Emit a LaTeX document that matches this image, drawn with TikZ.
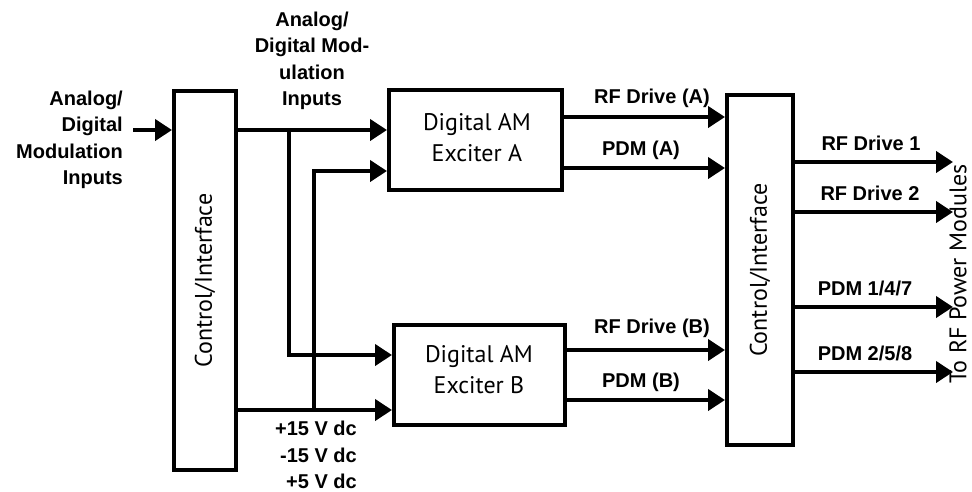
\documentclass[tikz,border=0pt]{standalone}
\usepackage{fontspec}
\setmainfont{Liberation Sans}
\newfontfamily\boxfont{PT Sans}
\usetikzlibrary{arrows.meta}
\begin{document}
\begin{tikzpicture}[x=1pt,y=-1pt,
  blk/.style={draw, line width=4pt, inner sep=0pt},
  boxtext/.style={font=\boxfont\fontsize{24}{31}\selectfont, align=center, inner sep=0pt},
  arr/.style={line width=4pt, -{Triangle[length=17pt,width=21pt]}},
  wire/.style={line width=4pt},
  lbl/.style={font=\bfseries\fontsize{20}{26.5}\selectfont, inner sep=0pt}]
\useasboundingbox (0,0) rectangle (972,491);

% blocks
\node[blk, minimum width=62pt, minimum height=379pt] (L) at (205,280.5) {};
\node[boxtext, rotate=90] (Lt) at (L.center) {Control/Interface};
\node[blk, minimum width=173pt, minimum height=100pt] (A) at (475.5,140) {};
\node[boxtext] (At) at (477,138) {Digital AM\\Exciter A};
\node[blk, minimum width=171pt, minimum height=100pt] (B) at (479.5,375) {};
\node[boxtext] (Bt) at (479,370) {Digital AM\\Exciter B};
\node[blk, minimum width=66pt, minimum height=350pt] (R) at (760,270) {};
\node[boxtext, rotate=90] (Rt) at (R.center) {Control/Interface};

% level coordinates
\coordinate (ya1) at (0,130);
\coordinate (ya2) at (0,171);
\coordinate (yb1) at (0,355);
\coordinate (yb2) at (0,410);
\coordinate (oa1) at (0,117);
\coordinate (oa2) at (0,168);
\coordinate (ob1) at (0,350);
\coordinate (ob2) at (0,400);
\coordinate (inS) at (133,130);
\coordinate (j1) at (289,130);
\coordinate (j2) at (314,410);
\coordinate (o1) at (953,162);
\coordinate (o2) at (953,212);
\coordinate (o3) at (953,307);
\coordinate (o4) at (953,372);

% input
\draw[arr] (inS) -- (L.west |- inS);
% left box to exciters
\draw[arr] (L.east |- ya1) -- (A.west |- ya1);
\draw[arr] (L.east |- yb2) -- (B.west |- yb2);
\draw[arr] (j1) |- (B.west |- yb1);
\draw[arr] (j2) |- (A.west |- ya2);
% exciters to right box
\draw[arr] (A.east |- oa1) -- (R.west |- oa1);
\draw[arr] (A.east |- oa2) -- (R.west |- oa2);
\draw[arr] (B.east |- ob1) -- (R.west |- ob1);
\draw[arr] (B.east |- ob2) -- (R.west |- ob2);
% outputs
\draw[arr] (R.east |- o1) -- (o1);
\draw[arr] (R.east |- o2) -- (o2);
\draw[arr] (R.east |- o3) -- (o3);
\draw[arr] (R.east |- o4) -- (o4);

% labels
\node[lbl, align=right, anchor=east] (lin) at (123,140) {Analog/\\Digital\\Modulation\\Inputs};
\node[lbl, align=center] (top) at (312,61) {Analog/\\Digital Mod-\\ulation\\Inputs};
\node[lbl, align=right, anchor=east] (volt) at (357,455) {+15 V dc\\-15 V dc\\+5 V dc};
\node[lbl] (lra) at (652,98) {RF Drive (A)};
\node[lbl] (lpa) at (641,150) {PDM (A)};
\node[lbl] (lrb) at (652,328) {RF Drive (B)};
\node[lbl] (lpb) at (641,382) {PDM (B)};
\node[lbl] (l1) at (871,143) {RF Drive 1};
\node[lbl] (l2) at (870,193) {RF Drive 2};
\node[lbl] (l3) at (865,288) {PDM 1/4/7};
\node[lbl] (l4) at (865,353) {PDM 2/5/8};
\node[boxtext, rotate=90] (to) at (958,274) {To RF Power Modules};
\end{tikzpicture}
\end{document}
